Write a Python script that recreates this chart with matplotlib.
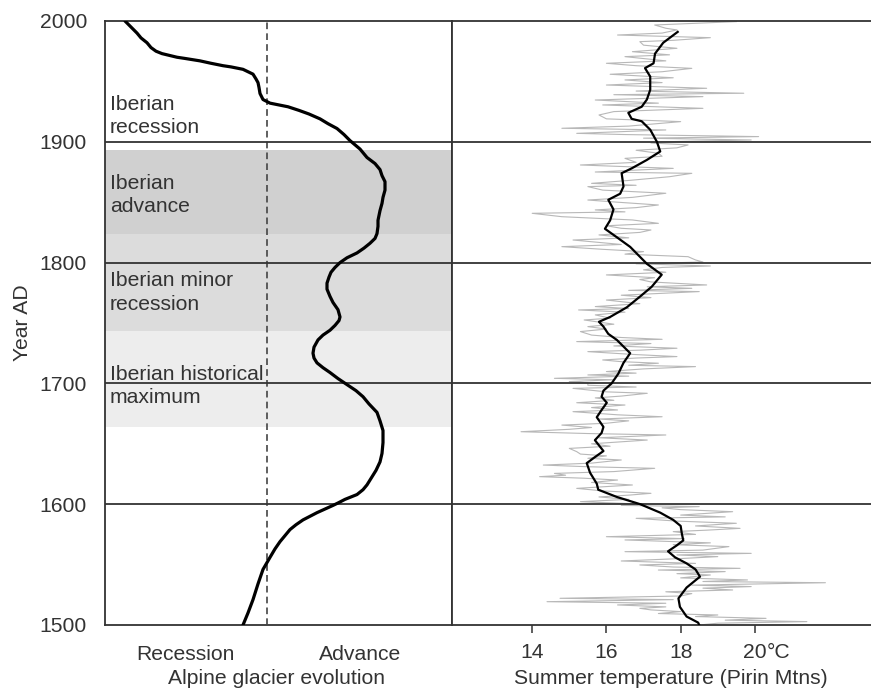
import matplotlib
matplotlib.use("Agg")
import matplotlib.pyplot as plt

plt.rcParams['font.family'] = ['Liberation Sans', 'DejaVu Sans']

# ---------------- data ----------------
# Alpine glacier evolution (relative index, 0 = dashed reference line)
glacier_years = [1500, 1510, 1521, 1534, 1546, 1556, 1563, 1569, 1574, 1579, 1583, 1587,
                 1590, 1593, 1596, 1599, 1601, 1604, 1608, 1612, 1616, 1620, 1628, 1635,
                 1642, 1651, 1661, 1669, 1676,
                 1683, 1689, 1694, 1699, 1704, 1709, 1713, 1717, 1721, 1725, 1730, 1736,
                 1740, 1744, 1748, 1752, 1755, 1761, 1767, 1772, 1778, 1783, 1788, 1792,
                 1796, 1800, 1804, 1808, 1812, 1816, 1820, 1824, 1830, 1835, 1843, 1849,
                 1854, 1860, 1867, 1872, 1877, 1882, 1887, 1894, 1901, 1906, 1911, 1915,
                 1919, 1923, 1926, 1929, 1931, 1932, 1935, 1940, 1945, 1949, 1952, 1956,
                 1958, 1960, 1962, 1963, 1965, 1967, 1969, 1970, 1972, 1973, 1975, 1978,
                 1982, 1986, 1990, 1995, 2000]
glacier_index = [-2.4, -1.9, -1.4, -0.9, -0.4, 0.3, 0.8, 1.3, 1.8, 2.3, 2.9, 3.6,
                 4.3, 5.0, 5.8, 6.6, 7.1, 7.8, 9.0, 9.6, 10.0, 10.3, 10.9, 11.3,
                 11.5, 11.6, 11.6, 11.3, 11.0,
                 10.2, 9.6, 8.9, 8.0, 7.1, 6.3, 5.6, 5.0, 4.7, 4.6, 4.7, 5.1,
                 5.6, 6.3, 6.8, 7.2, 7.3, 7.1, 6.6, 6.3, 6.0, 6.0, 6.2, 6.4,
                 6.8, 7.3, 8.0, 9.0, 9.7, 10.3, 10.8, 11.0, 11.1, 11.1, 11.3, 11.5,
                 11.6, 11.8, 11.8, 11.5, 11.3, 10.8, 10.0, 9.3, 8.3, 7.7, 7.0, 6.1,
                 5.3, 4.2, 3.2, 2.1, 0.9, 0.3, -0.4, -0.7, -0.8, -0.9, -1.1, -1.4,
                 -1.9, -2.4, -3.6, -4.4, -5.6, -6.7, -8.2, -9.0, -10.0, -10.5, -11.1, -11.6,
                 -12.0, -12.6, -13.0, -13.6, -14.2]

# Shaded periods (start, end)
band_dark = (1824, 1893)
band_mid = (1743, 1824)
band_light = (1664, 1743)

# Summer temperature (Pirin Mtns), smoothed curve
smooth_years = [1500, 1502, 1507, 1515, 1522, 1531, 1540, 1546, 1551, 1556, 1561, 1566,
                1570, 1576, 1582, 1587, 1593, 1600, 1606, 1612, 1617, 1626, 1634, 1639,
                1644, 1653, 1659, 1664, 1672, 1678, 1684, 1689, 1694, 1700, 1708, 1717,
                1725, 1736, 1741, 1747, 1751, 1755, 1763, 1772, 1780, 1790, 1799, 1813,
                1821, 1828, 1835, 1844, 1852, 1857, 1863, 1874, 1878, 1885, 1892, 1900,
                1910, 1917, 1919, 1924, 1929, 1935, 1943, 1954, 1961, 1965, 1973, 1982, 1991]
smooth_temp = [18.50, 18.47, 18.16, 17.98, 17.94, 18.16, 18.52, 18.40, 18.16, 17.85, 17.66, 17.90,
               18.07, 18.03, 18.00, 17.80, 17.45, 16.91, 16.28, 15.78, 15.74, 15.56, 15.47, 15.69,
               15.92, 15.69, 15.87, 15.92, 15.74, 15.87, 16.01, 15.87, 15.92, 16.14, 16.32, 16.46,
               16.64, 16.28, 16.05, 15.92, 15.80, 16.10, 16.55, 16.91, 17.22, 17.49, 17.09, 16.64,
               16.28, 15.96, 16.10, 16.19, 16.05, 16.37, 16.46, 16.41, 16.68, 17.09, 17.45, 17.36,
               17.18, 16.95, 16.68, 16.59, 16.95, 17.09, 17.18, 17.18, 17.04, 17.27, 17.31, 17.53, 17.92]

# Summer temperature, annual reconstruction (grey)
annual_years = [1500, 1501.5, 1502.8, 1504, 1505.5, 1507, 1508.3, 1509.5, 1511.1, 1512.5, 1513.8,
                1515, 1516.6, 1518, 1519.3, 1521, 1522.1, 1524, 1526, 1527.5, 1529, 1530.5,
                1531.8, 1533, 1535, 1536, 1537.3, 1539, 1541.4, 1542.5, 1544.2, 1545.5, 1546.9,
                1548, 1549.7, 1551, 1553, 1555, 1556.6, 1558, 1559.3, 1560.7, 1562, 1564.9,
                1566.5, 1568, 1570.4, 1571.5, 1573.1, 1575, 1577.3, 1578.5, 1580, 1582, 1584.2,
                1586, 1588.3, 1589.5, 1591, 1593.8, 1595.5, 1597, 1598, 1599,
                1600, 1601, 1602.1, 1604, 1606, 1607.5, 1609, 1611, 1613.1, 1615.9, 1618, 1620,
                1621.5, 1622.8, 1624, 1625.5, 1627, 1629.7, 1631, 1632.4, 1634, 1636.6, 1638,
                1640, 1641.5, 1643.5, 1646.2, 1648, 1650, 1653.1, 1655, 1657.3, 1658.5, 1660,
                1662, 1663.5, 1665.5, 1667, 1669, 1670.5, 1672.4, 1674, 1676.6, 1678, 1680,
                1682.1, 1684, 1686, 1688, 1689.5, 1691.8, 1693, 1695.9, 1697, 1698.5,
                1700.5, 1701.5, 1703, 1704.2, 1706, 1707, 1708.5, 1709.8, 1712, 1713.9, 1715,
                1716.7, 1718, 1719.4, 1721, 1722.2, 1724, 1726.3, 1727.5, 1729.1, 1731, 1733,
                1734.6, 1736.5, 1738, 1740, 1742.9, 1745, 1747, 1749, 1752.5, 1754, 1756.7,
                1759, 1760.8, 1762, 1763.6, 1766, 1769, 1771, 1773, 1776, 1777, 1778.7, 1780,
                1781.5, 1784, 1786, 1787.5, 1789.8, 1792, 1794, 1796, 1797.2,
                1799, 1800.5, 1802.2, 1804.9, 1807, 1809.1, 1811, 1813.2, 1815, 1818.7, 1820.5,
                1822.9, 1825, 1827, 1828.4, 1830.5, 1832.5, 1835.3, 1838.0, 1840.8, 1842,
                1843.6, 1845.5, 1847.7, 1850, 1851.8, 1854, 1857.4, 1860, 1862.9, 1864, 1865.6,
                1868, 1871.1, 1873.9, 1875, 1878, 1880.8, 1883, 1886.3, 1888, 1890.5, 1893,
                1895, 1897.4, 1899,
                1900, 1901.5, 1903, 1904.3, 1906, 1907, 1909.8, 1911.2, 1913, 1916.7, 1919,
                1922.2, 1925, 1927.7, 1930.5, 1932, 1934.6, 1937.4, 1939, 1940.2, 1942, 1944.3,
                1947, 1949, 1951.2, 1953, 1955.9, 1958, 1960.8, 1963, 1965, 1967, 1970.5, 1972,
                1974.6, 1977.4, 1980, 1982.9, 1984, 1986.2, 1988.4, 1990, 1992.6, 1994, 1996.7,
                1999.5]
annual_temp = [18.5, 19.0, 21.4, 19.2, 20.3, 18.4, 19.0, 17.4, 18.0, 17.2, 16.9,
               17.6, 16.3, 17.6, 14.4, 17.8, 14.75, 18.0, 18.3, 17.6, 19.4, 18.6,
               19.9, 18.3, 21.9, 18.6, 19.8, 18.0, 18.8, 17.9, 19.2, 17.4, 19.6,
               17.8, 16.9, 18.4, 16.4, 18.0, 19.0, 17.9, 19.9, 16.5, 18.6, 19.3,
               17.8, 18.8, 16.5, 18.1, 16.0, 18.4, 17.8, 18.7, 19.6, 18.4, 19.5,
               17.9, 16.8, 19.2, 18.0, 19.4, 18.0, 17.5, 18.5, 16.4,
               17.0, 16.2, 15.3, 16.6, 15.8, 16.6, 17.2, 15.9, 15.2, 16.7, 15.6, 16.3,
               15.4, 14.2, 14.9, 14.6, 16.2, 17.3, 15.5, 14.3, 15.6, 16.4, 15.5,
               16.0, 15.3, 15.2, 15.0, 16.1, 15.6, 17.1, 15.8, 17.6, 15.5, 13.7,
               15.0, 15.6, 14.8, 16.0, 16.6, 15.8, 17.5, 16.3, 15.1, 16.3, 15.6,
               16.5, 15.2, 16.2, 15.7, 16.4, 17.1, 16.0, 15.1, 16.8, 15.5,
               15.5, 15.0, 16.2, 14.6, 16.6, 15.5, 16.8, 16.0, 17.0, 18.4, 16.6,
               17.4, 16.4, 15.9, 16.8, 17.9, 16.7, 15.5, 16.9, 17.9, 16.2, 17.2,
               15.2, 17.5, 16.4, 15.6, 15.3, 16.0, 15.5, 16.2, 15.4, 16.1, 15.7,
               16.5, 15.25, 16.6, 15.7, 16.9, 16.0, 17.2, 16.4, 18.5, 16.6, 18.3, 17.1,
               18.7, 17.2, 16.9, 17.3, 16.0, 17.6, 17.0, 17.5, 18.8,
               16.8, 18.6, 18.4, 18.2, 16.5, 17.0, 15.9, 14.8, 16.4, 15.1, 16.6,
               15.8, 16.9, 17.2, 16.4, 16.0, 17.4, 16.7, 14.8, 14.0, 16.5,
               15.7, 16.8, 17.4, 16.3, 15.5, 16.7, 17.6, 15.9, 15.5, 16.8, 15.6,
               16.6, 17.7, 18.3, 15.7, 17.8, 15.3, 16.8, 16.5, 17.5, 17.4, 16.8,
               17.9, 18.2, 17.2,
               17.5, 19.9, 17.0, 20.1, 16.5, 15.2, 17.6, 14.8, 16.6, 18.0, 16.0,
               15.8, 16.2, 18.6, 15.9, 17.4, 15.7, 18.6, 16.2, 19.7, 16.8, 18.7,
               16.0, 17.5, 16.5, 17.8, 16.1, 17.5, 18.3, 16.8, 16.0, 17.6, 16.5, 17.7,
               16.7, 17.9, 17.0, 16.9, 17.8, 18.8, 16.3, 17.5, 17.9, 17.6, 17.3,
               19.5]

year_ticks = [1500, 1600, 1700, 1800, 1900, 2000]
century_lines = [1600, 1700, 1800, 1900]
temp_ticks = [14, 16, 18, 20]
temp_ticklabels = ['14', '16', '18', '20']

# ---------------- figure ----------------
W, H = 871, 689
fig = plt.figure(figsize=(W / 100, H / 100), dpi=100)

def fx(px):
    return px / W

def fy(py):
    return 1 - py / H

left, right_split, top, bottom = 105, 452, 21, 625
ax1 = fig.add_axes([fx(left), fy(bottom), fx(right_split - left), (bottom - top) / H])
ax2 = fig.add_axes([fx(right_split), fy(bottom), fx(W + 2 - right_split), (bottom - top) / H],
                   sharey=ax1)

spine_col = '#333333'
txt_col = '#333333'
fs = 15.2

for ax in (ax1, ax2):
    ax.set_ylim(1500, 2000)
    for s in ax.spines.values():
        s.set_color(spine_col)
        s.set_linewidth(1.3)
    for yy in century_lines:
        ax.axhline(yy, color=spine_col, lw=1.3, zorder=4)

# ---- left panel ----
ax1.set_xlim(-16.2, 18.5)
ax1.axhspan(*band_light, color='#ededed', lw=0, zorder=0)
ax1.axhspan(*band_mid, color='#dcdcdc', lw=0, zorder=0)
ax1.axhspan(*band_dark, color='#d0d0d0', lw=0, zorder=0)
ax1.axvline(0, color='#444444', lw=1.2, ls=(0, (4, 2.5)), zorder=3)
ax1.plot(glacier_index, glacier_years, color='black', lw=2.3, zorder=5,
         solid_joinstyle='round', solid_capstyle='round')
ax1.set_xticks([])
ax1.set_yticks(year_ticks)
ax1.set_yticklabels([str(y) for y in year_ticks])
ax1.tick_params(axis='y', length=0, pad=13, labelsize=fs, labelcolor=txt_col)

labels = [("Iberian", 1926.3), ("recession", 1907.3),
          ("Iberian", 1860.9), ("advance", 1841.9),
          ("Iberian minor", 1780.6), ("recession", 1760.8),
          ("Iberian historical", 1702.8), ("maximum", 1683.8)]
for t, yv in labels:
    ax1.text(-15.7, yv, t, fontsize=fs, color=txt_col, ha='left', va='baseline', zorder=6)

# ---- right panel ----
ax2.set_xlim(11.84, 11.84 + (W + 2 - right_split) / 37.12)
ax2.spines['right'].set_visible(False)
ax2.plot(annual_temp, annual_years, color='#b8b8b8', lw=0.8, zorder=2)
ax2.plot(smooth_temp, smooth_years, color='black', lw=1.6, zorder=5)
ax2.set_xticks(temp_ticks)
ax2.set_xticklabels(temp_ticklabels)
ax2.tick_params(axis='x', direction='out', length=6, width=1.1, color=spine_col,
                pad=7, labelsize=fs, labelcolor=txt_col)
ax2.tick_params(axis='y', left=False, labelleft=False)
ax2.annotate("°C", xy=(20, 0), xycoords=('data', 'axes fraction'),
             xytext=(8.4, -13), textcoords='offset points',
             ha='left', va='top', fontsize=fs, color=txt_col)

# ---- free text ----
fig.text(fx(185), fy(654), "Recession", fontsize=fs, color=txt_col, ha='center', va='center')
fig.text(fx(360), fy(654), "Advance", fontsize=fs, color=txt_col, ha='center', va='center')
fig.text(fx(276), fy(678), "Alpine glacier evolution", fontsize=fs, color=txt_col,
         ha='center', va='center')
fig.text(fx(671), fy(678), "Summer temperature (Pirin Mtns)", fontsize=fs, color=txt_col,
         ha='center', va='center')
fig.text(fx(22), fy(323), "Year AD", fontsize=fs, color=txt_col, rotation=90,
         ha='center', va='center')

fig.savefig("out.png", dpi=100)
